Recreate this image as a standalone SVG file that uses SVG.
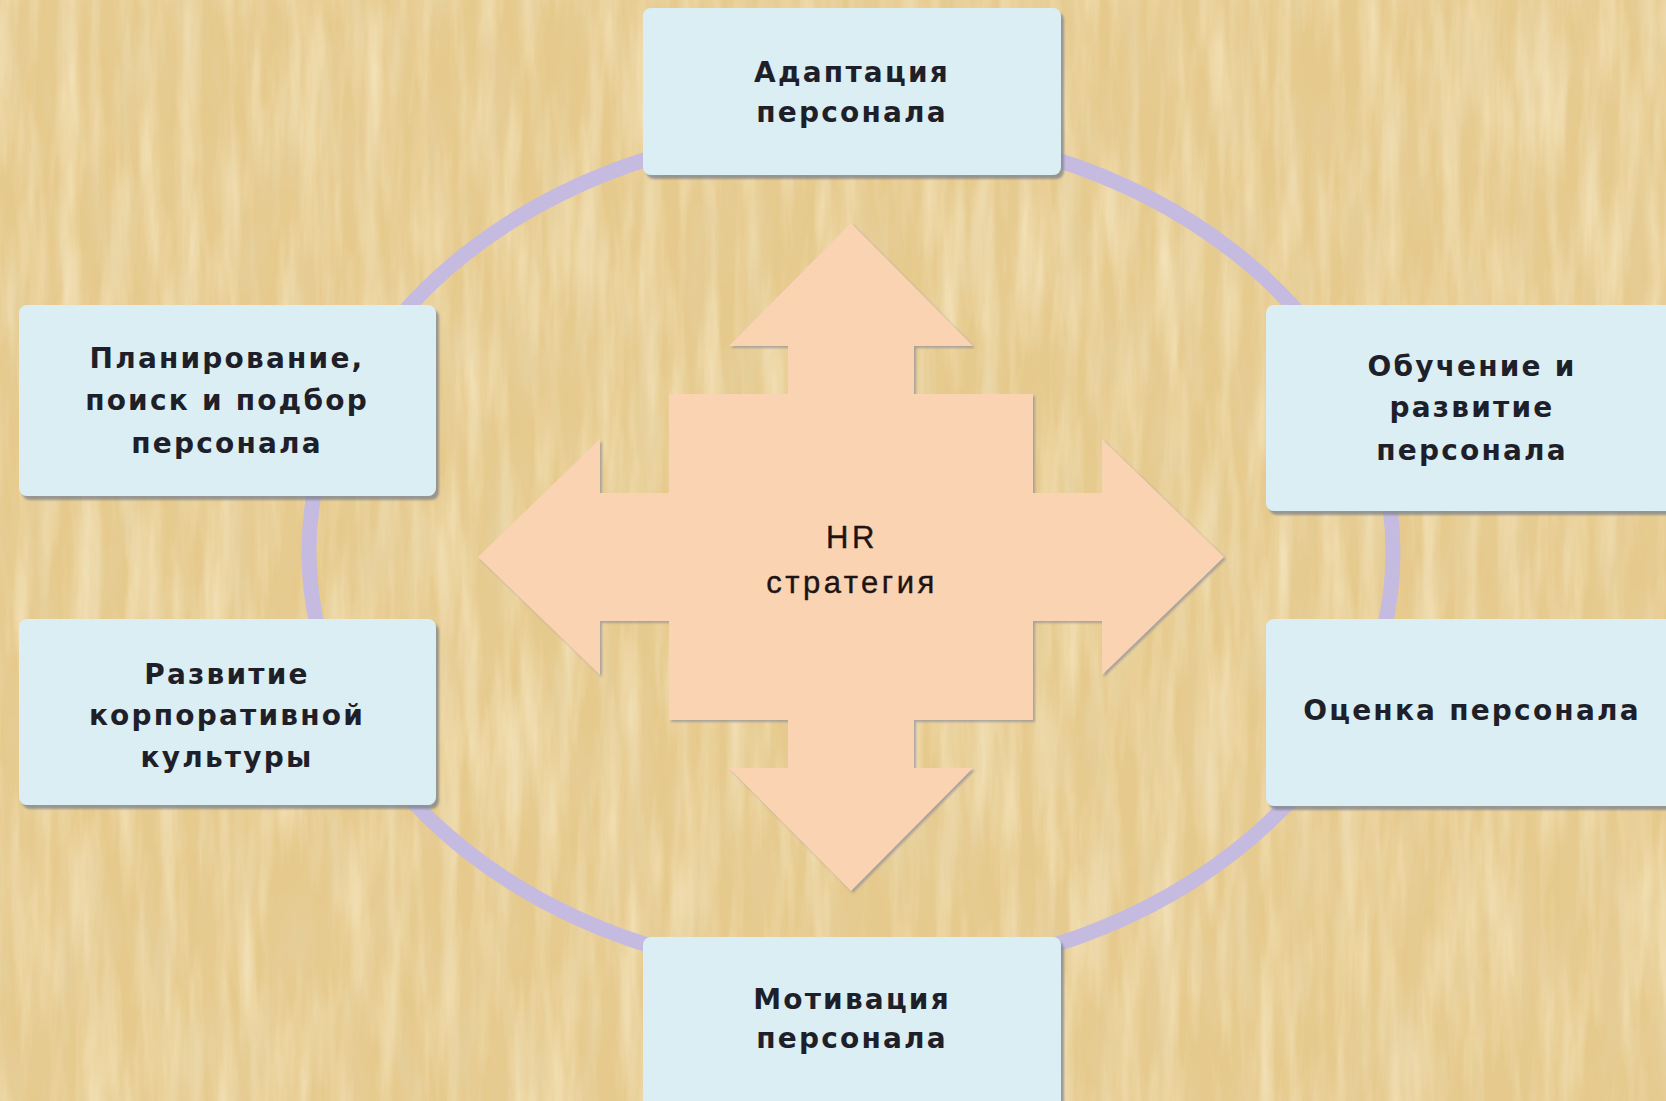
<svg xmlns="http://www.w3.org/2000/svg" width="1666" height="1101" viewBox="0 0 1666 1101">
<defs>
<style>
.box{fill:#DAEEF3;}
.bt{font-family:"DejaVu Sans","Liberation Sans",sans-serif;font-weight:bold;font-size:28px;fill:#1f1f2a;text-anchor:middle;letter-spacing:2.2px;}
.ct{font-family:"Liberation Sans","Open Sans",sans-serif;font-size:31px;fill:#1e1414;text-anchor:middle;letter-spacing:3.5px;stroke:#1e1414;stroke-width:0.4px;}
</style>
<filter id="light" x="0" y="0" width="1666" height="1101" filterUnits="userSpaceOnUse">
<feTurbulence type="fractalNoise" baseFrequency="0.05 0.006" numOctaves="4" seed="4"/>
<feColorMatrix type="matrix" values="0 0 0 0 0.98  0 0 0 0 0.9  0 0 0 0 0.7  1.1 0 0 0 -0.42"/>
</filter>
<filter id="dark" x="0" y="0" width="1666" height="1101" filterUnits="userSpaceOnUse">
<feTurbulence type="fractalNoise" baseFrequency="0.035 0.01" numOctaves="3" seed="11"/>
<feColorMatrix type="matrix" values="0 0 0 0 0.78  0 0 0 0 0.64  0 0 0 0 0.38  0 1.0 0 0 -0.42"/>
</filter>
<filter id="sh" x="-10%" y="-10%" width="120%" height="120%">
<feDropShadow dx="3" dy="4" stdDeviation="1" flood-color="#7d838c" flood-opacity="0.75"/>
</filter>
<filter id="ash" x="-10%" y="-10%" width="120%" height="120%">
<feDropShadow dx="2" dy="2" stdDeviation="0.8" flood-color="#8f8f9a" flood-opacity="0.7"/>
</filter>
</defs>
<rect x="0" y="0" width="1666" height="1101" fill="#E6CA8D"/>
<rect x="0" y="0" width="1666" height="1101" filter="url(#light)"/>
<rect x="0" y="0" width="1666" height="1101" filter="url(#dark)"/>
<g id="connectors">
<ellipse cx="851" cy="552" rx="542" ry="424" fill="none" stroke="#C5BAE0" stroke-width="15"/>
</g>
<g id="center" filter="url(#ash)">
<polygon fill="#FAD3B3" points="851,223 973,346 914,346 914,394 1033,394 1033,493 1102,493 1102,439 1224,557 1102,675 1102,621 1033,621 1033,720 914,720 914,768 973,768 851,891 729,768 788,768 788,720 669,720 669,621 600,621 600,675 478,557 600,439 600,493 669,493 669,394 788,394 788,346 729,346"/>
</g>
<g id="center-label">
<text class="ct" x="852" y="548">HR</text>
<text class="ct" x="852" y="593">стратегия</text>
</g>
<g id="node-top">
<rect class="box" x="643" y="8" width="418" height="167" rx="8" filter="url(#sh)"/>
<text class="bt" x="852" y="82">Адаптация</text>
<text class="bt" x="852" y="122">персонала</text>
</g>
<g id="node-top-left">
<rect class="box" x="19" y="305" width="417" height="191" rx="8" filter="url(#sh)"/>
<text class="bt" x="227" y="368">Планирование,</text>
<text class="bt" x="227" y="410">поиск и подбор</text>
<text class="bt" x="227" y="453">персонала</text>
</g>
<g id="node-top-right">
<rect class="box" x="1266" y="305" width="430" height="206" rx="8" filter="url(#sh)"/>
<text class="bt" x="1472" y="376">Обучение и</text>
<text class="bt" x="1472" y="417">развитие</text>
<text class="bt" x="1472" y="460">персонала</text>
</g>
<g id="node-bottom-left">
<rect class="box" x="19" y="619" width="417" height="186" rx="8" filter="url(#sh)"/>
<text class="bt" x="227" y="684">Развитие</text>
<text class="bt" x="227" y="725">корпоративной</text>
<text class="bt" x="227" y="767">культуры</text>
</g>
<g id="node-bottom-right">
<rect class="box" x="1266" y="619" width="430" height="187" rx="8" filter="url(#sh)"/>
<text class="bt" x="1472" y="720">Оценка персонала</text>
</g>
<g id="node-bottom">
<rect class="box" x="643" y="937" width="418" height="180" rx="8" filter="url(#sh)"/>
<text class="bt" x="852" y="1009">Мотивация</text>
<text class="bt" x="852" y="1048">персонала</text>
</g>
</svg>
